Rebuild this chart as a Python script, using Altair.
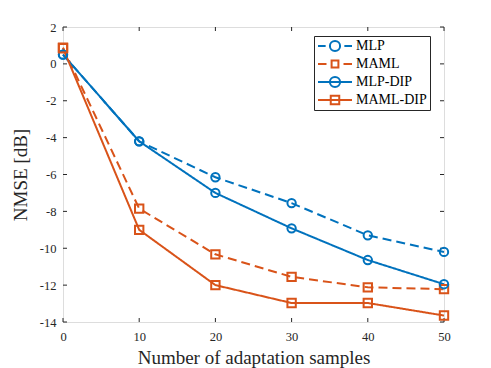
import altair as alt
import pandas as pd

samples = [0, 10, 20, 30, 40, 50]
mlp = [0.5, -4.2, -6.15, -7.55, -9.3, -10.2]
maml = [0.88, -7.85, -10.33, -11.55, -12.12, -12.22]
mlp_dip = [0.5, -4.2, -7.0, -8.92, -10.64, -11.95]
maml_dip = [0.85, -9.0, -12.0, -12.97, -12.97, -13.65]
series_names = ["MLP", "MAML", "MLP-DIP", "MAML-DIP"]
x_ticks = [0, 10, 20, 30, 40, 50]
y_ticks = [-14, -12, -10, -8, -6, -4, -2, 0, 2]

BLUE = "#0072BD"
ORANGE = "#D95319"
FONT = "Liberation Serif"
W, H = 381, 295

rows = []
for name, vals in zip(series_names, [mlp, maml, mlp_dip, maml_dip]):
    for s, v in zip(samples, vals):
        rows.append({"samples": s, "nmse": v, "series": name})
df = pd.DataFrame(rows)

colors = [BLUE, ORANGE, BLUE, ORANGE]
xscale = alt.Scale(domain=[0, 50], nice=False)
yscale = alt.Scale(domain=[-14, 2], nice=False)

# legend glyphs: line segment + marker, in the unit square [-1,1]
circ = "M0.3,0A0.3,0.3,0,1,1,-0.3,0A0.3,0.3,0,1,1,0.3,0"
sq_small = "M-0.2,-0.2L0.2,-0.2L0.2,0.2L-0.2,0.2Z"
sq_big = "M-0.25,-0.25L0.25,-0.25L0.25,0.25L-0.25,0.25Z"
dashed_c = "M-1,0L-0.55,0M0.55,0L1,0"
dashed_s = "M-1,0L-0.5,0M0.5,0L1,0"
solid = "M-1,0L1,0"
legend_glyphs = [dashed_c + circ, dashed_s + sq_small, solid + circ, solid + sq_big]

x_axis = alt.Axis(title="Number of adaptation samples", values=x_ticks, grid=False,
                  domain=False, ticks=False, labelFont=FONT, labelFontSize=12.5,
                  labelColor="#262626", labelPadding=8, labelOverlap=False,
                  labelFlush=False,
                  titleFont=FONT, titleFontSize=19, titleFontWeight="normal",
                  titleColor="#262626", titlePadding=6, labelExpr="'' + datum.value")
y_axis = alt.Axis(title="NMSE [dB]", values=y_ticks, grid=False,
                  domain=False, ticks=False, labelFont=FONT, labelFontSize=12.5,
                  labelColor="#262626", labelPadding=7, labelOverlap=False,
                  labelFlush=False,
                  titleFont=FONT, titleFontSize=19, titleFontWeight="normal",
                  titleColor="#262626", titlePadding=9, labelExpr="'' + datum.value")

X = lambda f: alt.X(f, scale=xscale, axis=x_axis)
Y = lambda f: alt.Y(f, scale=yscale, axis=y_axis)

base = alt.Chart(df)
cscale = alt.Scale(domain=series_names, range=colors)
lines = base.mark_line(strokeWidth=2).encode(
    x=X("samples:Q"),
    y=Y("nmse:Q"),
    color=alt.Color("series:N", scale=cscale, legend=None),
    strokeDash=alt.StrokeDash("series:N", scale=alt.Scale(domain=series_names,
                              range=[[9, 5], [9, 5], [1, 0], [1, 0]]), legend=None),
)
points = base.mark_point(filled=False, strokeWidth=2, size=70, opacity=1).encode(
    x=X("samples:Q"),
    y=Y("nmse:Q"),
    color=alt.Color("series:N", scale=cscale, legend=None),
    shape=alt.Shape("series:N", scale=alt.Scale(domain=series_names,
                    range=["circle", "square", "circle", "square"]), legend=None),
)

legend = alt.Legend(
    title=None, orient="none", legendX=251, legendY=9,
    strokeColor="#262626", fillColor="white", padding=3, cornerRadius=0,
    symbolSize=1156, symbolStrokeWidth=2, clipHeight=14, rowPadding=4,
    labelFont=FONT, labelFontSize=14, labelColor="#000000", labelOffset=3,
    symbolFillColor="transparent",
)
legend_layer = base.transform_filter("false").mark_point(
    filled=False, strokeWidth=2, size=1156, opacity=1).encode(
    x=X("samples:Q"),
    y=Y("nmse:Q"),
    color=alt.Color("series:N", scale=alt.Scale(domain=series_names, range=colors),
                    legend=legend, sort=series_names),
    shape=alt.Shape("series:N", scale=alt.Scale(domain=series_names, range=legend_glyphs),
                    legend=legend, sort=series_names),
)

xt = pd.DataFrame({"samples": x_ticks})
yt = pd.DataFrame({"nmse": y_ticks})
tick_color = "#262626"
tb = alt.Chart(xt).mark_rule(color=tick_color, strokeWidth=1).encode(
    x=X("samples:Q"), y=alt.value(H), y2=alt.value(H - 4))
tt = alt.Chart(xt).mark_rule(color=tick_color, strokeWidth=1).encode(
    x=X("samples:Q"), y=alt.value(0), y2=alt.value(4))
tl = alt.Chart(yt).mark_rule(color=tick_color, strokeWidth=1).encode(
    y=Y("nmse:Q"), x=alt.value(0), x2=alt.value(4))
tr = alt.Chart(yt).mark_rule(color=tick_color, strokeWidth=1).encode(
    y=Y("nmse:Q"), x=alt.value(W), x2=alt.value(W - 4))

chart = alt.layer(lines, tb, tt, tl, tr, points, legend_layer).resolve_scale(
    color="independent", shape="independent"
).properties(
    width=W, height=H,
    autosize=alt.AutoSizeParams(type="none"),
    padding={"left": 55, "top": 19, "right": 30, "bottom": 50},
).configure_view(stroke="#262626", strokeWidth=1).configure(background="white")

chart.save("out.html", embed_options={"renderer": "svg", "actions": False})
